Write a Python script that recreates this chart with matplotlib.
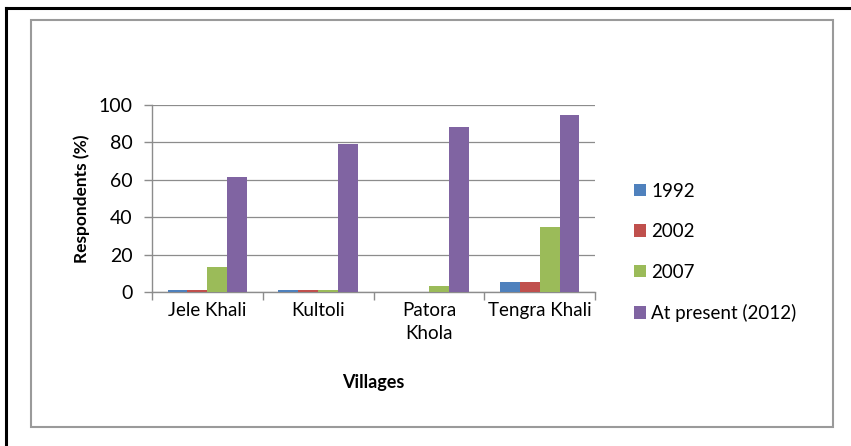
import numpy as np
import matplotlib.pyplot as plt
from matplotlib.patches import Rectangle
from matplotlib.lines import Line2D

villages = ['Jele Khali', 'Kultoli', 'Patora\nKhola', 'Tengra Khali']
series_names = ['1992', '2002', '2007', 'At present (2012)']
v1992 = [1, 1, 0, 5.5]
v2002 = [1, 1, 0, 5.5]
v2007 = [13.5, 1, 3, 35]
v2012 = [61.5, 79, 88, 94.5]
colors = ['#4F81BD', '#C0504D', '#9BBB59', '#8064A2']

plt.rcParams['font.family'] = ['Lato', 'DejaVu Sans']

W, H = 851, 446
fig = plt.figure(figsize=(W / 100, H / 100), dpi=100)

# outer black border (top and left visible) and grey chart frame
fig.add_artist(Line2D([6 / W, 1], [1 - 8 / H, 1 - 8 / H], color='black', lw=2.2,
                      transform=fig.transFigure))
fig.add_artist(Line2D([6 / W, 6 / W], [0, 1 - 8 / H], color='black', lw=2.2,
                      transform=fig.transFigure))
fig.add_artist(Rectangle((31 / W, 1 - 427 / H), (833 - 31) / W, (427 - 20) / H,
                         fill=False, edgecolor='#9A9A9A', lw=1.5,
                         transform=fig.transFigure))

ax = fig.add_axes([152 / W, 1 - 292 / H, (595 - 152) / W, (292 - 105) / H])

x = np.arange(len(villages))
bw = 0.18
data = [v1992, v2002, v2007, v2012]
for i, (vals, name, c) in enumerate(zip(data, series_names, colors)):
    ax.bar(x + (i - 1.5) * bw, vals, bw, color=c, label=name, zorder=3)

ax.set_xlim(-0.5, len(villages) - 0.5)
ax.set_ylim(0, 100)
ax.set_yticks(range(0, 101, 20))
ax.grid(axis='y', color='#8C8C8C', lw=0.9, zorder=0)
ax.set_xticks(np.arange(-0.5, len(villages), 1.0))
ax.set_xticklabels([])
ax.set_xticks(x, minor=True)
ax.set_xticklabels(villages, minor=True, fontsize=13.5, linespacing=1.45)
ax.tick_params(axis='x', which='major', length=6, color='#8C8C8C', width=1)
ax.tick_params(axis='x', which='minor', length=0, pad=7)
ax.tick_params(axis='y', length=6, color='#8C8C8C', width=1, labelsize=14, pad=8)

for s in ['top', 'right']:
    ax.spines[s].set_visible(False)
for s in ['left', 'bottom']:
    ax.spines[s].set_color('#8C8C8C')
    ax.spines[s].set_linewidth(1)

ax.set_xlabel('Villages', fontsize=13, fontweight='bold', labelpad=23)
ax.set_ylabel('Respondents (%)', fontsize=12.5, fontweight='bold', labelpad=6)

ax.legend(loc='upper left', bbox_to_anchor=(1.07, 0.625), frameon=False,
          fontsize=13.5, handlelength=0.65, handleheight=0.65, handletextpad=0.3,
          labelspacing=1.25, borderaxespad=0)

fig.savefig('out.png', dpi=100)
